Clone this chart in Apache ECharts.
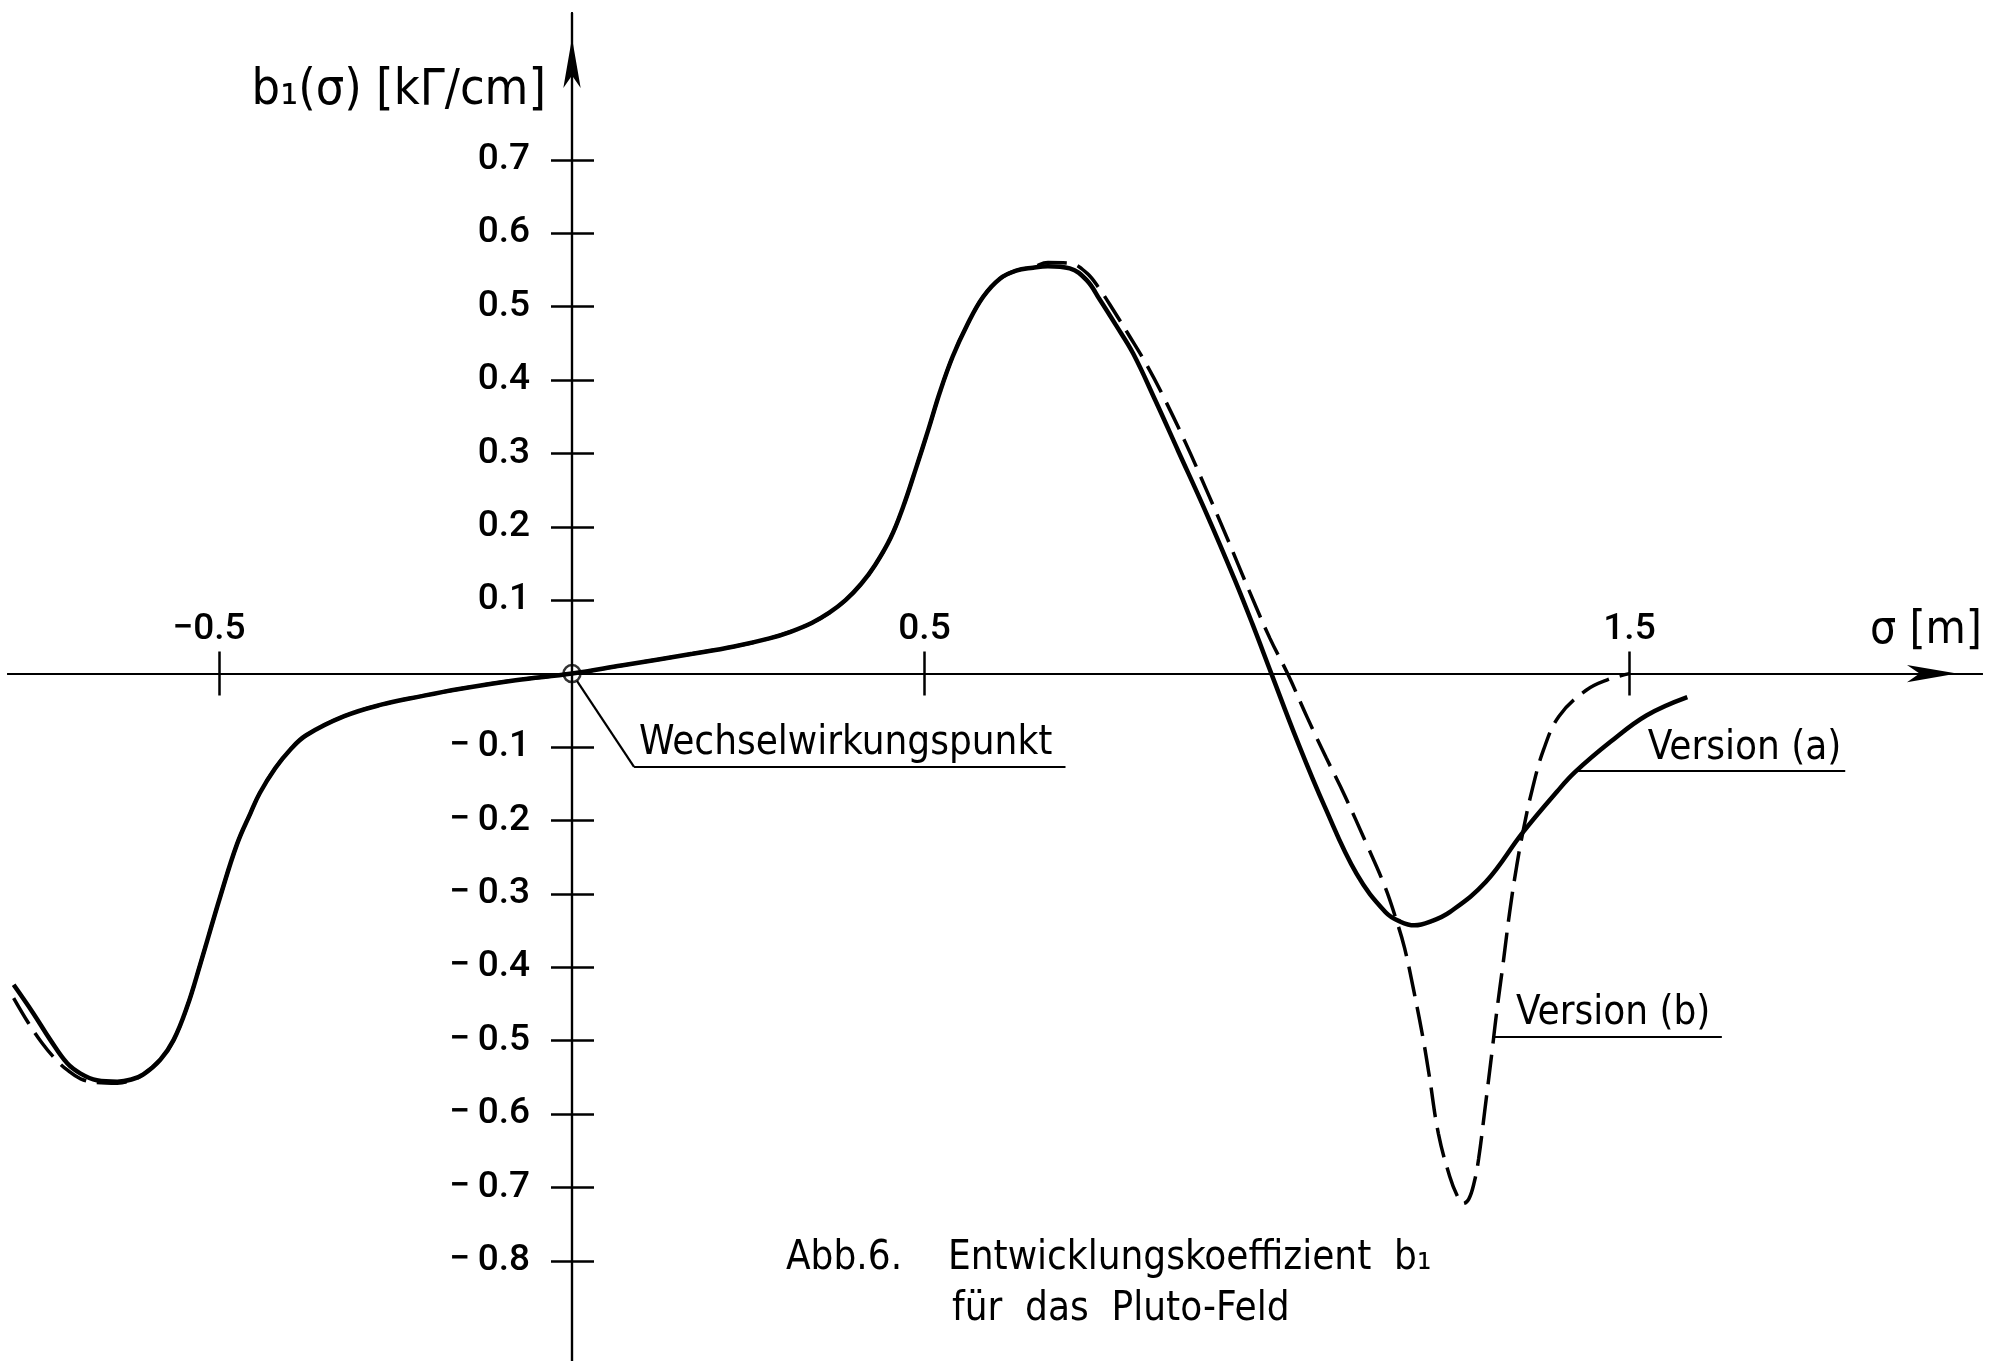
<!DOCTYPE html>
<html>
<head>
<meta charset="utf-8">
<script src="https://cdn.jsdelivr.net/npm/echarts@6.0.0/dist/echarts.min.js"></script>
<style>
html,body{margin:0;padding:0;background:#fff;}
#c{width:2010px;height:1361px;}
</style>
</head>
<body>
<div id="c"></div>
<script>
// ---- data (sigma [m], b1 [kΓ/cm]) ----
const versionA = [
  [-0.792,-0.424],[-0.764,-0.463],[-0.740,-0.499],[-0.716,-0.531],[-0.697,-0.545],
  [-0.674,-0.554],[-0.645,-0.556],[-0.625,-0.553],[-0.608,-0.546],[-0.584,-0.526],
  [-0.565,-0.499],[-0.546,-0.454],[-0.527,-0.395],[-0.499,-0.304],[-0.475,-0.232],
  [-0.456,-0.190],[-0.443,-0.163],[-0.421,-0.129],[-0.400,-0.104],[-0.377,-0.084],
  [-0.323,-0.058],[-0.269,-0.042],[-0.215,-0.031],[-0.160,-0.021],[-0.080,-0.009],
  [0,0],[0.070,0.011],[0.171,0.027],[0.230,0.037],[0.280,0.048],[0.310,0.057],
  [0.340,0.069],[0.365,0.083],[0.388,0.100],[0.410,0.122],[0.430,0.148],[0.452,0.185],
  [0.470,0.228],[0.488,0.280],[0.506,0.334],[0.522,0.384],[0.540,0.432],[0.560,0.474],
  [0.583,0.513],[0.607,0.538],[0.630,0.549],[0.654,0.553],[0.675,0.555],[0.706,0.552],
  [0.730,0.536],[0.749,0.509],[0.772,0.474],[0.796,0.436],[0.827,0.373],[0.860,0.303],
  [0.900,0.218],[0.940,0.128],[0.965,0.068],[0.992,0.000],[1.028,-0.090],[1.068,-0.182],
  [1.113,-0.273],[1.154,-0.325],[1.175,-0.338],[1.195,-0.343],[1.220,-0.337],[1.245,-0.325],
  [1.296,-0.284],[1.349,-0.216],[1.397,-0.161],[1.423,-0.134],[1.473,-0.093],[1.524,-0.057],
  [1.582,-0.032]
];
const versionB = [
  [-0.792,-0.442],[-0.771,-0.476],[-0.752,-0.503],[-0.733,-0.525],[-0.716,-0.540],
  [-0.697,-0.552],[-0.674,-0.557],[-0.645,-0.558],[-0.625,-0.554],[-0.608,-0.546],
  [-0.584,-0.526],[-0.565,-0.499],[-0.546,-0.454],[-0.527,-0.395],[-0.499,-0.304],
  [-0.475,-0.232],[-0.456,-0.190],[-0.443,-0.163],[-0.421,-0.129],[-0.400,-0.104],
  [-0.377,-0.084],[-0.323,-0.058],[-0.269,-0.042],[-0.215,-0.031],[-0.160,-0.021],
  [-0.080,-0.009],[0,0],[0.070,0.011],[0.171,0.027],[0.230,0.037],[0.280,0.048],
  [0.310,0.057],[0.340,0.069],[0.365,0.083],[0.388,0.100],[0.410,0.122],[0.430,0.148],
  [0.452,0.185],[0.470,0.228],[0.488,0.280],[0.506,0.334],[0.522,0.384],[0.540,0.432],
  [0.560,0.474],[0.583,0.513],[0.607,0.538],[0.630,0.549],[0.654,0.554],[0.675,0.560],
  [0.706,0.559],[0.730,0.546],[0.749,0.523],[0.768,0.495],[0.790,0.461],[0.815,0.421],
  [0.837,0.381],[0.870,0.315],[0.900,0.250],[0.930,0.183],[0.960,0.114],[0.990,0.048],
  [1.015,0.000],[1.043,-0.060],[1.070,-0.115],[1.096,-0.166],[1.126,-0.230],[1.153,-0.290],
  [1.169,-0.335],[1.181,-0.374],[1.194,-0.432],[1.207,-0.496],[1.216,-0.548],[1.229,-0.627],
  [1.245,-0.685],[1.256,-0.712],[1.264,-0.722],[1.272,-0.716],[1.280,-0.692],[1.286,-0.661],
  [1.295,-0.593],[1.305,-0.515],[1.311,-0.466],[1.321,-0.393],[1.330,-0.325],[1.340,-0.262],
  [1.349,-0.215],[1.362,-0.158],[1.378,-0.104],[1.400,-0.058],[1.438,-0.023],[1.470,-0.008],
  [1.500,0.000]
];
const xTickValues = [-0.5, 0.5, 1.5];
const yTickValues = [0.7,0.6,0.5,0.4,0.3,0.2,0.1,-0.1,-0.2,-0.3,-0.4,-0.5,-0.6,-0.7,-0.8];
const originPoint = [[0, 0]];
const leaderLines = [
  [[0.007,-0.010],[0.088,-0.127]],
  [[0.088,-0.127],[0.700,-0.127]],
  [[1.422,-0.133],[1.806,-0.133]],
  [[1.307,-0.495],[1.631,-0.495]]
];
const annotationTexts = ['Wechselwirkungspunkt', 'Version (a)', 'Version (b)'];
const annotationAnchors = [[0.095,-0.127],[1.526,-0.133],[1.339,-0.495]];
const yAxisName = 'b\u2081(\u03c3) [k\u0393/cm]';
const xAxisName = '\u03c3 [m]';
const captionLines = ['Abb.6.', 'Entwicklungskoeffizient  b\u2081', 'f\u00fcr  das  Pluto-Feld'];

// ---- layout ----
const X_MIN = -0.8, X_MAX = 2.0, Y_MIN = -1.0, Y_MAX = 0.9;
const W = 2010, H = 1361;
const G_LEFT = 8, G_RIGHT = 28, G_TOP = 13, G_BOTTOM = -46.6;
const gW = W - G_LEFT - G_RIGHT, gH = H - G_TOP - G_BOTTOM;
// put the axes through the origin: shift them inward from the grid edges by the scale position of 0
const yAxisOffset = -((0 - X_MIN) / (X_MAX - X_MIN) * gW);
const xAxisOffset = -((0 - Y_MIN) / (Y_MAX - Y_MIN) * gH);

const NUM_FONT = 'Roboto, sans-serif';
const NUM_SIZE = 37;
const NUM_WEIGHT = 500;
const TXT_FONT = '"DejaVu Sans Condensed", "DejaVu Sans"';
const INK = '#000';
const chart = echarts.init(document.getElementById('c'), null, {renderer: 'canvas'});

function fmtY(v) {
  return v < 0 ? '\u2212\u2009' + Math.abs(v).toFixed(1) : v.toFixed(1);
}
function fmtX(v) {
  return v < 0 ? '{neg|\u2212' + Math.abs(v).toFixed(1) + '}' : '{pos|' + v.toFixed(1) + '}';
}
const capStyle = {fontFamily: TXT_FONT, fontSize: 40, fontWeight: 'normal', color: INK};

const option = {
  backgroundColor: '#fff',
  animation: false,
  title: [
    {text: captionLines[0], left: 786, top: 1239, padding: 0, textStyle: capStyle},
    {text: captionLines[1], left: 948, top: 1239, padding: 0, textStyle: capStyle},
    {text: captionLines[2], left: 952, top: 1290, padding: 0, textStyle: capStyle}
  ],
  grid: {left: G_LEFT, right: G_RIGHT, top: G_TOP, bottom: G_BOTTOM,
         containLabel: false, outerBoundsMode: 'none'},
  xAxis: [
    {
      type: 'value', min: X_MIN, max: X_MAX, position: 'bottom', offset: xAxisOffset,
      axisLine: {show: true, onZero: false, lineStyle: {color: INK, width: 2.2},
                 symbol: ['none', 'arrow'], symbolSize: [13, 50], symbolOffset: [0, -25]},
      axisTick: {show: true, inside: true, length: 22, customValues: xTickValues,
                 lineStyle: {color: INK, width: 2.5}},
      axisLabel: {show: true, inside: true, margin: 25, customValues: xTickValues,
                  formatter: fmtX, color: INK,
                  rich: {
                    neg: {fontFamily: NUM_FONT, fontSize: NUM_SIZE, fontWeight: NUM_WEIGHT,
                          color: INK, padding: [0, 21, 0, 0]},
                    pos: {fontFamily: NUM_FONT, fontSize: NUM_SIZE, fontWeight: NUM_WEIGHT,
                          color: INK}
                  }},
      splitLine: {show: false},
      name: xAxisName, nameLocation: 'end', nameGap: 0,
      nameTextStyle: {fontFamily: TXT_FONT, fontSize: 46, color: INK, align: 'right',
                      verticalAlign: 'bottom', padding: [0, 0, 20, 0]}
    },
    {
      type: 'value', min: X_MIN, max: X_MAX, position: 'bottom', offset: xAxisOffset,
      axisLine: {show: true, onZero: false, lineStyle: {color: INK, width: 2.2}},
      axisTick: {show: true, inside: false, length: 22, customValues: xTickValues,
                 lineStyle: {color: INK, width: 2.5}},
      axisLabel: {show: false},
      splitLine: {show: false}
    }
  ],
  yAxis: [
    {
      type: 'value', min: Y_MIN, max: Y_MAX, position: 'left', offset: yAxisOffset,
      axisLine: {show: true, onZero: false, lineStyle: {color: INK, width: 2.2},
                 symbol: ['none', 'arrow'], symbolSize: [13, 50], symbolOffset: [0, -25]},
      axisTick: {show: true, inside: false, length: 21, customValues: yTickValues,
                 lineStyle: {color: INK, width: 2.5}},
      axisLabel: {show: true, margin: 42, customValues: yTickValues, formatter: fmtY,
                  color: INK, fontFamily: NUM_FONT, fontSize: NUM_SIZE, fontWeight: NUM_WEIGHT},
      splitLine: {show: false},
      name: yAxisName, nameLocation: 'end', nameGap: -78,
      nameTextStyle: {fontFamily: TXT_FONT, fontSize: 50, color: INK, align: 'right',
                      verticalAlign: 'middle', padding: [0, 26, 0, 0]}
    },
    {
      type: 'value', min: Y_MIN, max: Y_MAX, position: 'left', offset: yAxisOffset,
      axisLine: {show: true, onZero: false, lineStyle: {color: INK, width: 2.2}},
      axisTick: {show: true, inside: true, length: 22, customValues: yTickValues,
                 lineStyle: {color: INK, width: 2.5}},
      axisLabel: {show: false},
      splitLine: {show: false}
    }
  ],
  series: [
    {
      name: 'Version (b)', type: 'line', xAxisIndex: 0, yAxisIndex: 0,
      data: versionB, showSymbol: false, smooth: 0.4,
      lineStyle: {color: INK, width: 3.5, type: [30, 11]}, z: 3
    },
    {
      name: 'Version (a)', type: 'line', xAxisIndex: 0, yAxisIndex: 0,
      data: versionA, showSymbol: false, smooth: 0.4,
      lineStyle: {color: INK, width: 4.5}, z: 4,
      markLine: {
        silent: true, symbol: ['none', 'none'], animation: false,
        lineStyle: {color: INK, width: 2.2, type: 'solid'},
        label: {show: false},
        emphasis: {disabled: true},
        data: leaderLines.map(function (seg) {
          return [{coord: seg[0]}, {coord: seg[1]}];
        })
      }
    },
    {
      name: 'origin', type: 'scatter', xAxisIndex: 0, yAxisIndex: 0,
      data: originPoint, symbol: 'circle', symbolSize: 17, z: 5,
      itemStyle: {color: 'rgba(0,0,0,0)', borderColor: INK, borderWidth: 2.5}
    }
  ]
};
chart.setOption(option);

// annotation texts placed at data-space anchors
const textElems = annotationTexts.map(function (t, i) {
  const p = chart.convertToPixel({seriesIndex: 1}, annotationAnchors[i]);
  return {
    type: 'text', x: p[0], y: p[1] - 3, silent: true,
    style: {text: t, fill: INK, fontFamily: TXT_FONT, fontSize: 40,
            align: 'left', verticalAlign: 'bottom'}
  };
});
chart.setOption({graphic: textElems});
</script>
</body>
</html>
